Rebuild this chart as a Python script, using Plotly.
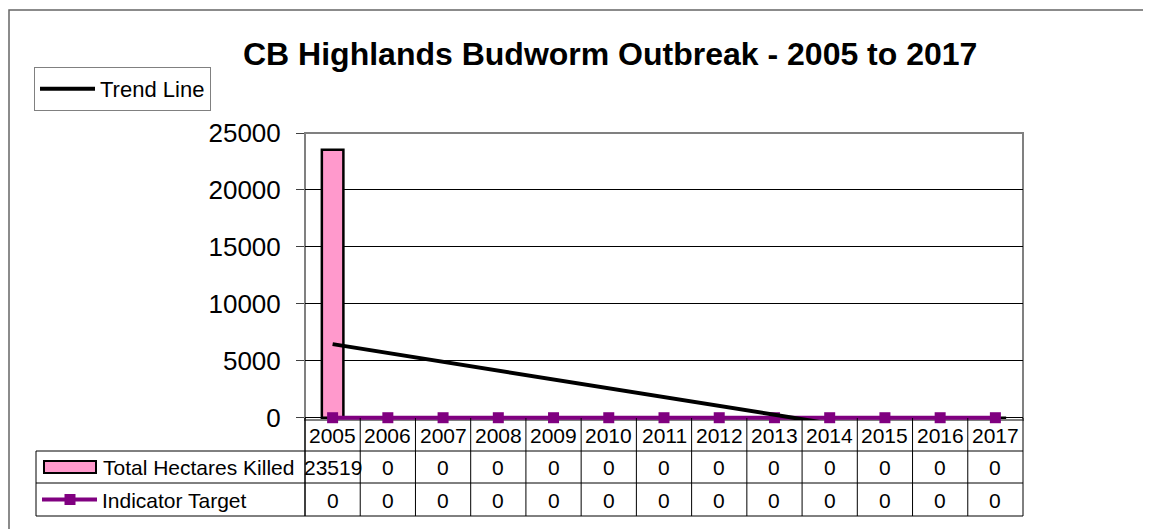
import plotly.graph_objects as go

# ---- data ----
years = [2005, 2006, 2007, 2008, 2009, 2010, 2011, 2012, 2013, 2014, 2015, 2016, 2017]
total_hectares_killed = [23519, 0, 0, 0, 0, 0, 0, 0, 0, 0, 0, 0, 0]
indicator_target = [0, 0, 0, 0, 0, 0, 0, 0, 0, 0, 0, 0, 0]
trend_years = [2005, 2017]
trend_values = [6460, -2840]
y_ticks = [0, 5000, 10000, 15000, 20000, 25000]
y_tick_labels = ["0", "5000", "10000", "15000", "20000", "25000"]
title_text = "CB Highlands Budworm Outbreak - 2005 to 2017"
row_labels = ["Total Hectares Killed", "Indicator Target"]

# ---- layout geometry (page pixels, page body has an 8px margin) ----
OFF = 8
W, H = 1151 - OFF, 529 - OFF
L, R, T, B = 305 - OFF, 1023 - OFF, 133 - OFF, 420 - OFF
FONT = "Liberation Sans, Arial, sans-serif"
PINK = "#FF99CC"
PURPLE = "#800080"


def px(x):
    return (x - OFF - L) / (R - L)


def py(y):
    return (B - (y - OFF)) / (B - T)


fig = go.Figure()

fig.add_trace(go.Bar(
    x=years, y=total_hectares_killed, width=0.39, name=row_labels[0],
    marker=dict(color=PINK, line=dict(color="black", width=2.5)),
    showlegend=False,
))
fig.add_trace(go.Scatter(
    x=years, y=indicator_target, mode="lines+markers", name=row_labels[1],
    line=dict(color=PURPLE, width=4),
    marker=dict(symbol="square", size=11, color=PURPLE),
    cliponaxis=False, showlegend=False,
))
fig.add_trace(go.Scatter(
    x=trend_years, y=trend_values, mode="lines", name="Trend Line",
    line=dict(color="black", width=4), showlegend=True,
))

shapes = []
# outer chart border
shapes.append(dict(type="rect", xref="paper", yref="paper",
                   x0=px(9), x1=px(1250), y0=py(600), y1=py(10),
                   line=dict(color="#666666", width=1.5), layer="below"))
# plot area border
shapes.append(dict(type="rect", xref="paper", yref="paper",
                   x0=0, x1=1, y0=0, y1=1,
                   line=dict(color="#808080", width=2), layer="below"))

# data table lines
for yy in (451, 483, 516):
    shapes.append(dict(type="line", xref="paper", yref="paper",
                       x0=px(36), x1=1, y0=py(yy), y1=py(yy),
                       line=dict(color="black", width=1)))
shapes.append(dict(type="line", xref="paper", yref="paper",
                   x0=px(36), x1=px(36), y0=py(451), y1=py(516),
                   line=dict(color="black", width=1)))
shapes.append(dict(type="line", xref="paper", yref="paper",
                   x0=0, x1=0, y0=py(418), y1=py(516),
                   line=dict(color="black", width=1.5)))
shapes.append(dict(type="line", xref="paper", yref="paper",
                   x0=1, x1=1, y0=py(418), y1=py(516),
                   line=dict(color="black", width=1)))
for yr in years[:-1]:
    shapes.append(dict(type="line", xref="x", yref="paper",
                       x0=yr + 0.5, x1=yr + 0.5, y0=py(418), y1=py(516),
                       line=dict(color="black", width=1)))

# legend keys inside the data table
shapes.append(dict(type="rect", xref="paper", yref="paper",
                   x0=px(44), x1=px(96), y0=py(473), y1=py(461),
                   fillcolor=PINK, line=dict(color="black", width=2)))
shapes.append(dict(type="line", xref="paper", yref="paper",
                   x0=px(42), x1=px(97), y0=py(499.5), y1=py(499.5),
                   line=dict(color=PURPLE, width=4)))
shapes.append(dict(type="rect", xref="paper", yref="paper",
                   x0=px(64.5), x1=px(75.5), y0=py(505), y1=py(494),
                   fillcolor=PURPLE, line=dict(width=0)))

annotations = []
annotations.append(dict(text="<b>" + title_text + "</b>", xref="paper", yref="paper",
                        x=px(610), y=py(54), xanchor="center", yanchor="middle",
                        showarrow=False, font=dict(size=32, color="black", family=FONT)))
for yr, v1, v2 in zip(years, total_hectares_killed, indicator_target):
    annotations.append(dict(text=str(yr), xref="x", yref="paper", x=yr, y=py(435),
                            showarrow=False, yanchor="middle",
                            font=dict(size=21, color="black", family=FONT)))
    annotations.append(dict(text=str(v1), xref="x", yref="paper", x=yr, y=py(467.5),
                            showarrow=False, yanchor="middle",
                            font=dict(size=21, color="black", family=FONT)))
    annotations.append(dict(text=str(v2), xref="x", yref="paper", x=yr, y=py(500),
                            showarrow=False, yanchor="middle",
                            font=dict(size=21, color="black", family=FONT)))
annotations.append(dict(text=row_labels[0], xref="paper", yref="paper", x=px(101), y=py(467.5),
                        xanchor="left", yanchor="middle", showarrow=False,
                        font=dict(size=21, color="black", family=FONT)))
annotations.append(dict(text=row_labels[1], xref="paper", yref="paper", x=px(100), y=py(500),
                        xanchor="left", yanchor="middle", showarrow=False,
                        font=dict(size=21, color="black", family=FONT)))

fig.update_layout(
    width=W, height=H, autosize=False,
    margin=dict(l=L, r=W - R, t=T, b=H - B, pad=0),
    paper_bgcolor="white", plot_bgcolor="white",
    font=dict(family=FONT, color="black"),
    barmode="overlay",
    shapes=shapes, annotations=annotations,
    legend=dict(x=px(34), y=py(67), xanchor="left", yanchor="top",
                bgcolor="white", bordercolor="#808080", borderwidth=1,
                font=dict(size=22, family=FONT, color="black"),
                itemwidth=55, tracegroupgap=0),
    xaxis=dict(range=[2004.5, 2017.5], showticklabels=False, ticks="",
               showgrid=False, zeroline=False, showline=False, fixedrange=True),
    yaxis=dict(range=[-200, 25000], tickvals=y_ticks, ticktext=y_tick_labels,
               ticks="outside", ticklen=8,
               tickcolor="#404040", tickwidth=1, ticklabelstandoff=10,
               showgrid=True, gridcolor="black", gridwidth=1, zeroline=False,
               showline=True, linecolor="#808080", linewidth=1,
               tickfont=dict(size=26, family=FONT, color="black"), fixedrange=True),
)

fig.write_html("out.html")
